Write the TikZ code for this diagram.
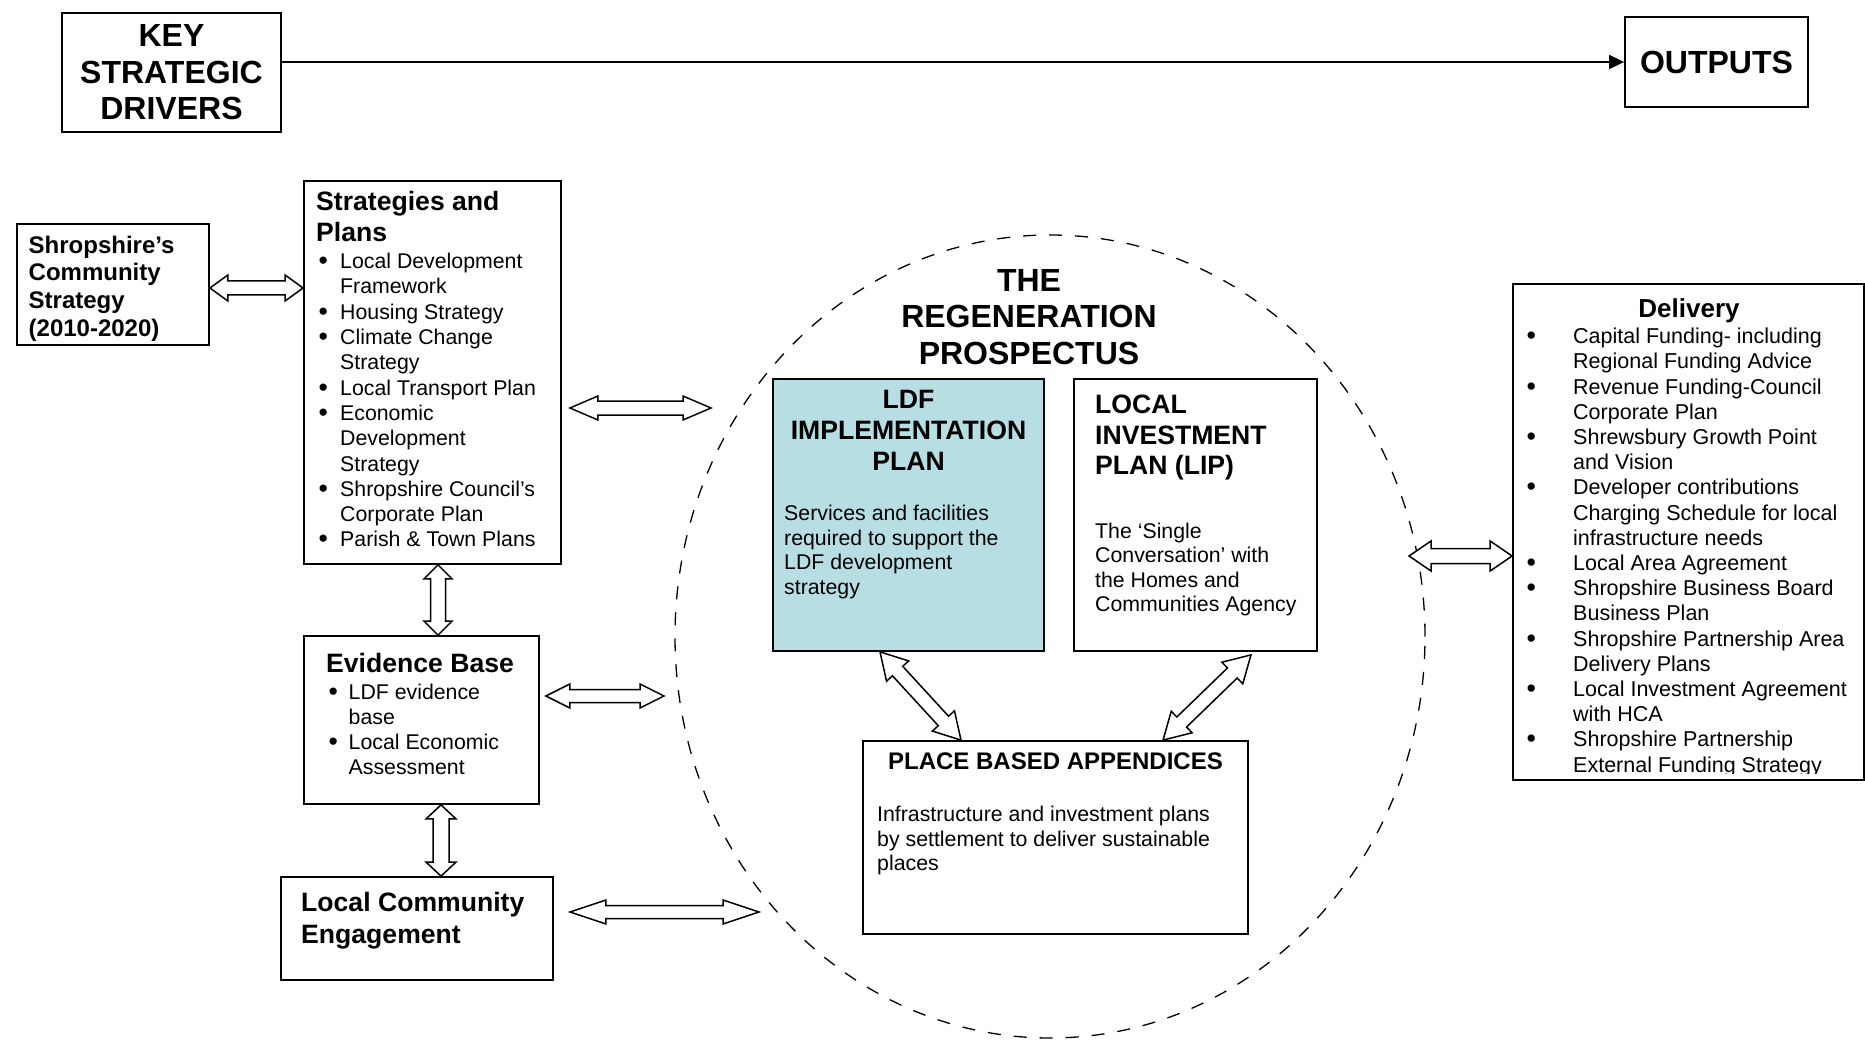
\documentclass[tikz,border=0pt]{standalone}
\usepackage{fontspec}
\usepackage{graphicx}
\setmainfont{Liberation Sans}
\usetikzlibrary{shapes.geometric,arrows.meta,calc}

\definecolor{ldfblue}{RGB}{183,222,226}

% font size / baseline skip in pt
\newcommand{\fs}[2]{\fontsize{#1pt}{#2pt}\selectfont}
% bullet list helpers: \bi starts an item, \ci indents a continuation line
\newlength{\bulw}
\newcommand{\bi}{\makebox[\bulw][l]{\raisebox{-1pt}{\scalebox{1.25}{\textbullet}}}}
\newcommand{\ci}{\hspace*{\bulw}}

% hollow double-headed block arrow from #1 to #2
% #3 shaft half width, #4 head half width, #5 head length (all in pt)
\newcommand{\hollowarrow}[5]{%
  \draw[hollow] let \p1=(#1), \p2=(#2), \n1={atan2(\y2-\y1,\x2-\x1)} in
    (\p1) -- ($(\p1)+(\n1:#5pt)+(\n1+90:#4pt)$)
    -- ($(\p1)+(\n1:#5pt)+(\n1+90:#3pt)$)
    -- ($(\p2)+(\n1+180:#5pt)+(\n1+90:#3pt)$)
    -- ($(\p2)+(\n1+180:#5pt)+(\n1+90:#4pt)$)
    -- (\p2)
    -- ($(\p2)+(\n1+180:#5pt)+(\n1-90:#4pt)$)
    -- ($(\p2)+(\n1+180:#5pt)+(\n1-90:#3pt)$)
    -- ($(\p1)+(\n1:#5pt)+(\n1-90:#3pt)$)
    -- ($(\p1)+(\n1:#5pt)+(\n1-90:#4pt)$)
    -- cycle;}

\begin{document}
\begin{tikzpicture}[x=1pt,y=-1pt,
  box/.style={draw, line width=1.8pt, inner sep=0pt},
  txt/.style={inner sep=0pt, align=left, anchor=north west},
  ctxt/.style={inner sep=0pt, align=center, anchor=north},
  hollow/.style={draw, fill=white, line width=1.5pt, line join=miter},
  bigb/.style={font=\fs{32}{36.5}\bfseries},
  headb/.style={font=\fs{26.6}{31}\bfseries},
  body/.style={font=\fs{21.3}{25}}]

\useasboundingbox (0,0) rectangle (1865,1040);
\fill[white] (0,0) rectangle (1865,1040);

% ---- header row ----
\node[box, minimum width=219pt, minimum height=119pt] (key) at (171.5,72.5) {};
\node[bigb, inner sep=0pt, align=center] (key-t) at (key.center) {KEY\\STRATEGIC\\DRIVERS};
\node[box, minimum width=183pt, minimum height=90pt] (out) at (1716.5,62) {};
\node[bigb, inner sep=0pt, align=center] (out-t) at (out.center) {OUTPUTS};
\draw[line width=1.6pt, -{Triangle[length=15pt,width=14pt]}] (key.east |- out.west) -- (out.west);

% ---- regeneration prospectus ----
\node[ellipse, draw, dashed, dash pattern=on 13pt off 13pt, line width=1.3pt,
      inner sep=0pt, minimum width=750pt, minimum height=803pt] (regen) at (1050,636.5) {};
\node[ctxt, bigb] (regen-t) at (1029,269) {THE\\REGENERATION\\PROSPECTUS};

\node[box, fill=ldfblue, minimum width=271pt, minimum height=272pt] (ldf) at (908.5,515) {};
\node[ctxt, headb] (ldf-h) at (908.5,390) {LDF\\IMPLEMENTATION\\PLAN};
\node[txt, font=\fs{21.3}{24.6}] (ldf-b) at (784,505)
  {Services and facilities\\required to support the\\LDF development\\strategy};

\node[box, minimum width=243pt, minimum height=272pt] (lip) at (1195.5,515) {};
\node[txt, font=\fs{26.6}{30.5}\bfseries] (lip-h) at (1095,395) {LOCAL\\INVESTMENT\\PLAN (LIP)};
\node[txt, font=\fs{21.3}{24.2}] (lip-b) at (1095,523)
  {The ‘Single\\Conversation’ with\\the Homes and\\Communities Agency};

\node[box, minimum width=385pt, minimum height=193pt] (place) at (1055.5,837.5) {};
\node[ctxt, font=\fs{24}{28}\bfseries] (place-h) at (1055.5,753) {PLACE BASED APPENDICES};
\node[txt, font=\fs{21.3}{24.4}] (place-b) at (877,806)
  {Infrastructure and investment plans\\by settlement to deliver sustainable\\places};

% ---- left column ----
\node[box, minimum width=192pt, minimum height=121pt] (shrop) at (113,284.5) {};
\node[txt, font=\fs{24}{27.7}\bfseries] (shrop-t) at (28.5,235.5)
  {Shropshire’s\\Community\\Strategy\\(2010-2020)};

\node[box, minimum width=257pt, minimum height=383pt] (strat) at (432.5,372.5) {};
\node[txt, headb] (strat-h) at (316,191.5) {Strategies and\\Plans};
\setlength{\bulw}{21.7pt}
\node[txt, font=\fs{21.3}{25.3}] (strat-l) at (318.3,253)
  {\bi Local Development\\\ci Framework\\
   \bi Housing Strategy\\
   \bi Climate Change\\\ci Strategy\\
   \bi Local Transport Plan\\
   \bi Economic\\\ci Development\\\ci Strategy\\
   \bi Shropshire Council’s\\\ci Corporate Plan\\
   \bi Parish \& Town Plans};

\node[box, minimum width=235pt, minimum height=168pt] (evid) at (421.5,720) {};
\node[txt, headb] (evid-h) at (326,653) {Evidence Base};
\setlength{\bulw}{20.2pt}
\node[txt, body] (evid-l) at (328.3,684)
  {\bi LDF evidence\\\ci base\\
   \bi Local Economic\\\ci Assessment};

\node[box, minimum width=272pt, minimum height=103pt] (lce) at (417,928.5) {};
\node[txt, font=\fs{26.6}{32}\bfseries] (lce-t) at (301,892) {Local Community\\Engagement};

% ---- delivery ----
\node[box, minimum width=351pt, minimum height=496pt] (deliv) at (1688.5,532) {};
\node[ctxt, font=\fs{26}{30}\bfseries] (deliv-h) at (1689,298) {Delivery};
\setlength{\bulw}{46.7pt}
\begin{scope}
  \clip (deliv.north west) rectangle ([yshift=7pt]deliv.south east);
  \node[txt, font=\fs{21.5}{25.2}] (deliv-l) at (1526.3,328)
    {\bi Capital Funding- including\\\ci Regional Funding Advice\\
     \bi Revenue Funding-Council\\\ci Corporate Plan\\
     \bi Shrewsbury Growth Point\\\ci and Vision\\
     \bi Developer contributions\\\ci Charging Schedule for local\\\ci infrastructure needs\\
     \bi Local Area Agreement\\
     \bi Shropshire Business Board\\\ci Business Plan\\
     \bi Shropshire Partnership Area\\\ci Delivery Plans\\
     \bi Local Investment Agreement\\\ci with HCA\\
     \bi Shropshire Partnership\\\ci External Funding Strategy};
\end{scope}

% ---- free ends of connectors near the prospectus ring ----
\coordinate (r-strat) at (711,408);
\coordinate (r-evid) at (664,696);
\coordinate (r-lce) at (759,912);
\coordinate (r-deliv) at (1409,556);
\coordinate (v1) at (438,0);
\coordinate (v2) at (441,0);
\coordinate (h1) at (0,288);

% ---- connectors ----
\hollowarrow{shrop.east |- h1}{strat.west |- h1}{7}{13}{18}
\hollowarrow{[xshift=8pt]strat.east |- r-strat}{r-strat}{7}{12}{28}
\hollowarrow{strat.south -| v1}{evid.north -| v1}{7.5}{14}{14}
\hollowarrow{[xshift=6pt]evid.east |- r-evid}{r-evid}{6.5}{12}{24}
\hollowarrow{evid.south -| v2}{lce.north -| v2}{8}{15}{14}
\hollowarrow{[xshift=16pt]lce.east |- r-lce}{r-lce}{6.5}{12}{36}
\hollowarrow{r-deliv}{deliv.west |- r-deliv}{7.5}{15}{22}
\hollowarrow{[xshift=-28.5pt]ldf.south}{[xshift=-94.5pt]place.north}{7}{15}{26}
\hollowarrow{[xshift=55.5pt,yshift=-3pt]lip.south}{[xshift=107.5pt]place.north}{7}{15}{26}

\end{tikzpicture}
\end{document}
